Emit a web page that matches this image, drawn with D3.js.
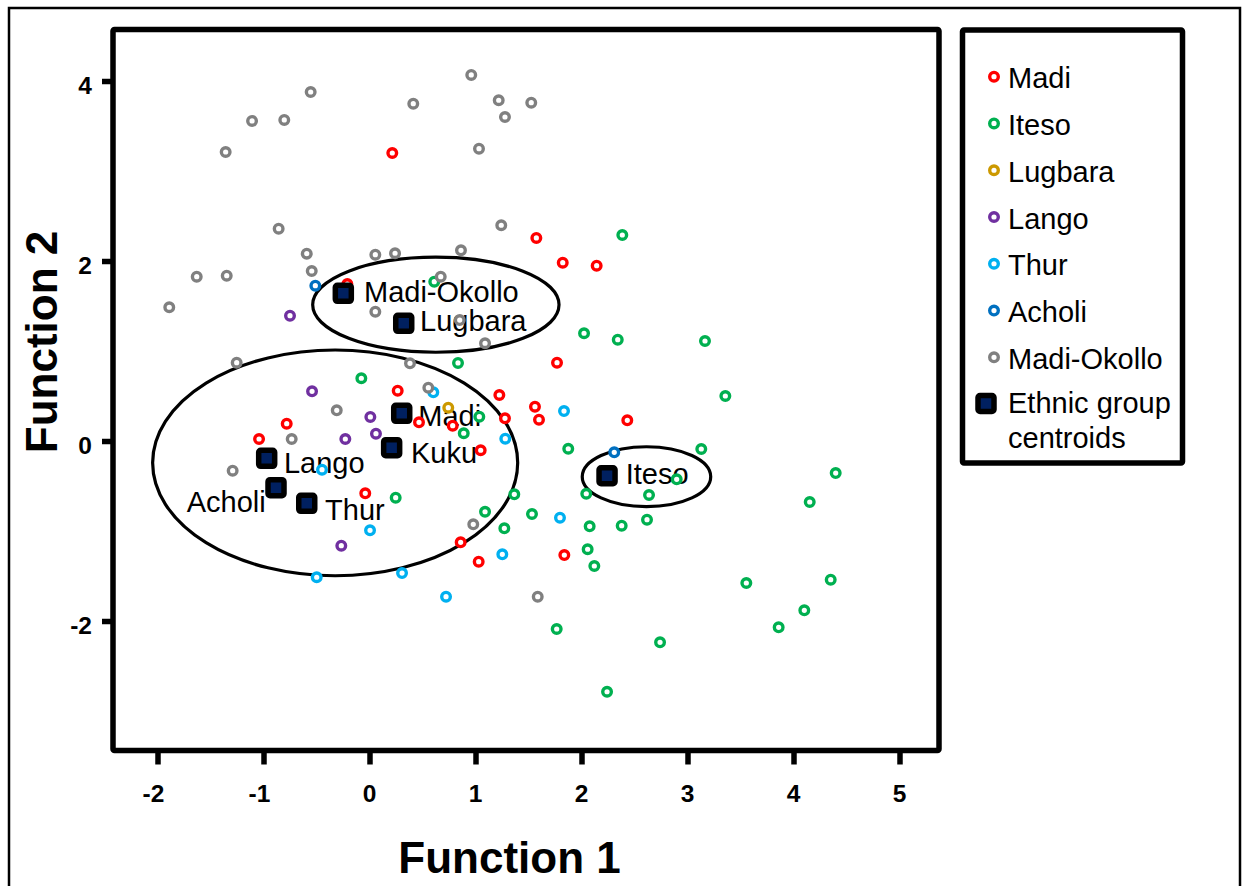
<!DOCTYPE html>
<html>
<head>
<meta charset="utf-8">
<script src="https://cdn.jsdelivr.net/npm/d3@7"></script>
<style>
  html, body { margin: 0; padding: 0; background: #fff; }
  svg { display: block; }
  text { font-family: "Liberation Sans", Arial, sans-serif; }
</style>
</head>
<body>
<svg id="chart" width="1247" height="886"></svg>
<script>
// ---------------- DATA ----------------
const groups = ["Madi", "Iteso", "Lugbara", "Lango", "Thur", "Acholi", "Madi-Okollo"];

const madi = [
  [0.215, 3.20], [1.574, 2.256], [1.823, 1.981], [2.143, 1.948], [-0.209, 1.744],
  [1.769, 0.870], [-0.781, 0.192], [-1.042, 0.022], [0.266, 0.559], [1.225, 0.511],
  [1.561, 0.381], [2.432, 0.230], [0.467, 0.208], [0.785, 0.170], [1.278, 0.252],
  [1.599, 0.237], [1.049, -0.103], [-0.040, -0.581], [0.860, -1.126], [1.030, -1.341],
  [1.838, -1.267]
];
const iteso = [
  [2.385, 2.289], [0.611, 1.770], [2.024, 1.197], [2.342, 1.126], [3.165, 1.111],
  [3.357, 0.500], [-0.077, 0.697], [0.835, 0.867], [1.036, 0.270], [0.889, 0.086],
  [1.875, -0.086], [3.130, -0.089], [2.898, -0.426], [4.398, -0.356], [4.153, -0.678],
  [2.045, -0.586], [2.637, -0.600], [0.247, -0.630], [1.366, -0.592], [1.090, -0.786],
  [1.533, -0.811], [1.272, -0.970], [2.077, -0.948], [2.379, -0.941], [2.618, -0.874],
  [2.058, -1.203], [2.121, -1.389], [1.766, -2.089], [2.741, -2.237], [2.241, -2.786],
  [3.555, -1.578], [4.351, -1.541], [4.102, -1.881], [3.860, -2.070]
];
const lugbara = [[0.743, 0.370]];
const lango = [
  [-0.750, 1.392], [-0.542, 0.552], [0.008, 0.267], [0.061, 0.081], [-0.228, 0.022],
  [-0.266, -1.163]
];
const thur = [
  [0.602, 0.541], [1.835, 0.333], [1.281, 0.026], [-0.448, -0.319], [0.005, -0.992],
  [-0.498, -1.514], [1.797, -0.852], [1.253, -1.259], [0.307, -1.467], [0.722, -1.730]
];
const acholi = [[-0.511, 1.726], [2.309, -0.126]];
const madiOkollo = [
  [-0.555, 3.878], [-1.108, 3.556], [-0.804, 3.567], [-1.357, 3.211], [0.960, 4.067],
  [0.413, 3.748], [1.219, 3.786], [1.526, 3.759], [1.278, 3.600], [1.033, 3.248],
  [-0.857, 2.359], [-0.592, 2.081], [0.055, 2.070], [0.241, 2.086], [0.863, 2.119],
  [1.243, 2.397], [-1.630, 1.826], [-1.347, 1.837], [-0.545, 1.889], [-1.889, 1.486],
  [0.055, 1.437], [0.672, 1.826], [0.851, 1.344], [1.090, 1.086], [-1.253, 0.870],
  [0.382, 0.863], [0.555, 0.592], [-0.309, 0.341], [-0.734, 0.022], [-1.291, -0.330],
  [0.979, -0.926], [1.587, -1.730]
];
const seriesValues = [madi, iteso, lugbara, lango, thur, acholi, madiOkollo];

const centroidNames = ["Madi-Okollo", "Lugbara", "Madi", "Kuku", "Lango", "Acholi", "Thur", "Iteso"];
const centroidX = [-0.247, 0.323, 0.304, 0.209, -0.970, -0.882, -0.592, 2.241];
const centroidY = [1.641, 1.308, 0.308, -0.074, -0.192, -0.519, -0.692, -0.386];

// ellipses drawn round clusters of centroids: [cx, cy, rx, ry] in data units
const ellipseCx = [-0.324, 0.626, 2.613];
const ellipseCy = [-0.243, 1.514, -0.397];
const ellipseRx = [1.722, 1.162, 0.606];
const ellipseRy = [1.254, 0.528, 0.333];

const xTicks = [-2, -1, 0, 1, 2, 3, 4, 5];
const yTicks = [-2, 0, 2, 4];
const xTitle = "Function 1";
const yTitle = "Function 2";
const legendCentroidLabel = ["Ethnic group", "centroids"];

// ---------------- STYLE / LAYOUT ----------------
const colors = ["#FF0000", "#00B050", "#CC9900", "#7030A0", "#00B0F0", "#0070C0", "#808080"];
const labelOffsets = {
  "Madi-Okollo": [20.7, 8.7, "start"],
  "Lugbara": [16.3, 7.7, "start"],
  "Madi": [16.6, 12.7, "start"],
  "Kuku": [19.3, 15.6, "start"],
  "Lango": [17.3, 15, "start"],
  "Acholi": [-10.3, 24, "end"],
  "Thur": [18.3, 16.7, "start"],
  "Iteso": [18.7, 8.3, "start"]
};
const frame = { x0: 113, x1: 939, y0: 29.5, y1: 750.5 };
const labelFont = 29;
const tickFont = 24.5;

const svg = d3.select("#chart");

const x = d3.scaleLinear().domain([-2, 5]).range([157.5, 899.5]);
const y = d3.scaleLinear().domain([-2, 4]).range([621, 81]);

// outer thin border
svg.append("rect")
  .attr("x", 9).attr("y", 8).attr("width", 1231).attr("height", 900)
  .attr("fill", "none").attr("stroke", "#000").attr("stroke-width", 2.5);

// axes
const xAxis = svg.append("g").attr("transform", `translate(0,${frame.y1})`)
  .call(d3.axisBottom(x).tickValues(xTicks).tickSize(14).tickFormat(() => ""));
xAxis.select(".domain").remove();
xAxis.selectAll(".tick line").attr("stroke", "#000").attr("stroke-width", 5.5);

const yAxis = svg.append("g").attr("transform", `translate(${frame.x0},0)`)
  .call(d3.axisLeft(y).tickValues(yTicks).tickSize(11).tickFormat(() => ""));
yAxis.select(".domain").remove();
yAxis.selectAll(".tick line").attr("stroke", "#000").attr("stroke-width", 5.5);

// tick labels (digit centred on tick, minus sign hanging to the left)
svg.append("g").selectAll("text").data(xTicks).join("text")
  .attr("x", d => x(d) + 6.8)
  .attr("y", 801.5)
  .attr("text-anchor", "end")
  .attr("font-size", tickFont).attr("font-weight", "bold")
  .text(d => String(d));

svg.append("g").selectAll("text").data(yTicks).join("text")
  .attr("x", 92)
  .attr("y", d => y(d) + 12.8)
  .attr("text-anchor", "end")
  .attr("font-size", tickFont).attr("font-weight", "bold")
  .text(d => String(d));

// plot frame
svg.append("rect")
  .attr("x", frame.x0).attr("y", frame.y0)
  .attr("width", frame.x1 - frame.x0).attr("height", frame.y1 - frame.y0)
  .attr("fill", "none").attr("stroke", "#000").attr("stroke-width", 5.5)
  .attr("rx", 1.5);

// axis titles
svg.append("text")
  .attr("x", 509.5).attr("y", 873)
  .attr("text-anchor", "middle")
  .attr("font-size", 44).attr("font-weight", "bold")
  .text(xTitle);

svg.append("text")
  .attr("transform", "translate(57,342) rotate(-90)")
  .attr("text-anchor", "middle")
  .attr("font-size", 44).attr("font-weight", "bold")
  .text(yTitle);

// ellipses
const ellipseData = ellipseCx.map((cx, i) => ({ cx, cy: ellipseCy[i], rx: ellipseRx[i], ry: ellipseRy[i] }));
svg.append("g").selectAll("ellipse").data(ellipseData).join("ellipse")
  .attr("cx", d => x(d.cx))
  .attr("cy", d => y(d.cy))
  .attr("rx", d => x(d.cx + d.rx) - x(d.cx))
  .attr("ry", d => y(d.cy) - y(d.cy + d.ry))
  .attr("fill", "none").attr("stroke", "#000").attr("stroke-width", 3.2);

// centroid labels
const centroids = centroidNames.map((n, i) => ({ name: n, x: centroidX[i], y: centroidY[i] }));
svg.append("g").selectAll("text").data(centroids).join("text")
  .attr("x", d => x(d.x) + labelOffsets[d.name][0])
  .attr("y", d => y(d.y) + labelOffsets[d.name][1])
  .attr("text-anchor", d => labelOffsets[d.name][2])
  .attr("font-size", labelFont)
  .text(d => d.name);

// points
const pts = [];
seriesValues.forEach((arr, gi) => arr.forEach(p => pts.push({ g: gi, x: p[0], y: p[1] })));
svg.append("g").selectAll("circle").data(pts).join("circle")
  .attr("cx", d => x(d.x))
  .attr("cy", d => y(d.y))
  .attr("r", 4.3)
  .attr("fill", "#fff")
  .attr("stroke", d => colors[d.g])
  .attr("stroke-width", 3.4);

// centroids
svg.append("g").selectAll("rect").data(centroids).join("rect")
  .attr("x", d => x(d.x) - 8)
  .attr("y", d => y(d.y) - 8)
  .attr("width", 16).attr("height", 16)
  .attr("rx", 2)
  .attr("fill", "#002060").attr("stroke", "#000").attr("stroke-width", 5.5);

// legend
const lg = svg.append("g");
lg.append("rect")
  .attr("x", 962.5).attr("y", 30).attr("width", 220).attr("height", 433)
  .attr("fill", "#fff").attr("stroke", "#000").attr("stroke-width", 5.5).attr("rx", 1.5);
const rowY = d3.scaleLinear().domain([0, 6]).range([76.7, 357.3]);
lg.selectAll("circle").data(groups).join("circle")
  .attr("cx", 994).attr("cy", (d, i) => rowY(i))
  .attr("r", 4.3).attr("fill", "#fff")
  .attr("stroke", (d, i) => colors[i]).attr("stroke-width", 3.4);
lg.selectAll("text.lab").data(groups).join("text").attr("class", "lab")
  .attr("x", 1008).attr("y", (d, i) => rowY(i) + 11.6)
  .attr("font-size", labelFont)
  .text(d => d);
lg.append("rect")
  .attr("x", 978).attr("y", 395.5).attr("width", 16).attr("height", 16).attr("rx", 2)
  .attr("fill", "#002060").attr("stroke", "#000").attr("stroke-width", 5.5);
lg.append("text").attr("x", 1008).attr("y", 413.3).attr("font-size", labelFont).text(legendCentroidLabel[0]);
lg.append("text").attr("x", 1008).attr("y", 448.3).attr("font-size", labelFont).text(legendCentroidLabel[1]);
</script>
</body>
</html>
